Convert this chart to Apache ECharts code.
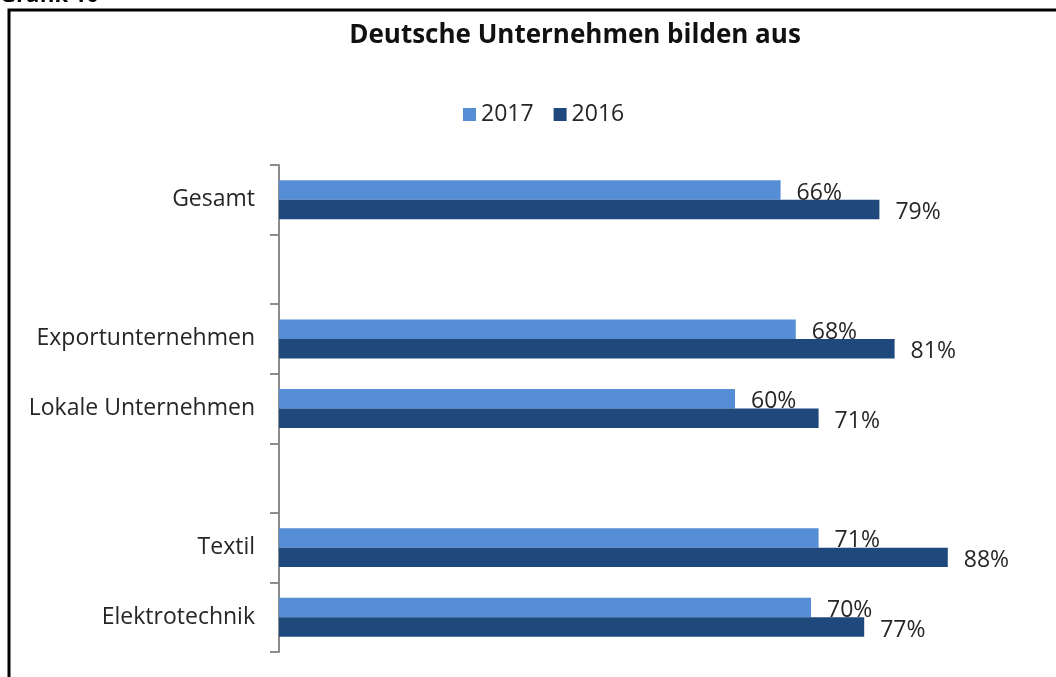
<!DOCTYPE html>
<html>
<head>
<meta charset="utf-8">
<script src="https://cdn.jsdelivr.net/npm/echarts@6/dist/echarts.min.js"></script>
<style>
  html, body { margin: 0; padding: 0; background: #fff; }
  #chart { width: 1056px; height: 677px; }
</style>
</head>
<body>
<div id="chart"></div>
<script>
// Daten
const categories = ['Gesamt', '', 'Exportunternehmen', 'Lokale Unternehmen', '', 'Textil', 'Elektrotechnik'];
const values2017 = [66, null, 68, 60, null, 71, 70];
const values2016 = [79, null, 81, 71, null, 88, 77];
const seriesNames = ['2017', '2016'];

const chart = echarts.init(document.getElementById('chart'));
const font = '"Open Sans", sans-serif';

const labelStyle = {
    show: true,
    position: 'right',
    distance: 16,
    offset: [0, 3],
    formatter: '{c}%',
    fontFamily: font,
    fontSize: 23,
    color: '#262626'
};

const option = {
    animation: false,
    title: {
        text: 'Deutsche Unternehmen bilden aus',
        left: 570,
        textAlign: 'center',
        top: 18,
        textStyle: { fontFamily: font, fontWeight: 'bold', fontSize: 26, color: '#111' }
    },
    legend: {
        data: seriesNames,
        left: 458,
        top: 98,
        itemWidth: 13,
        itemHeight: 13,
        itemGap: 20,
        icon: 'rect',
        textStyle: { fontFamily: font, fontSize: 23, color: '#262626' }
    },
    grid: { left: 279, right: 17, top: 165, bottom: 25 },
    xAxis: {
        type: 'value',
        min: 0,
        max: 100,
        show: false
    },
    yAxis: {
        type: 'category',
        data: categories,
        inverse: true,
        axisLine: { lineStyle: { color: '#8c8c8c', width: 2 } },
        axisTick: { show: true, length: 9, lineStyle: { color: '#8c8c8c', width: 2 } },
        axisLabel: { fontFamily: font, fontSize: 23, color: '#262626', margin: 24, padding: [8, 0, 0, 0] }
    },
    series: [
        {
            name: '2017',
            type: 'bar',
            data: values2017,
            barGap: '0%',
            barCategoryGap: '44%',
            itemStyle: { color: '#558ED5' },
            label: labelStyle
        },
        {
            name: '2016',
            type: 'bar',
            data: values2016,
            itemStyle: { color: '#1F497D' },
            label: labelStyle
        }
    ],
    graphic: [
        {
            type: 'text',
            left: 0,
            top: -15,
            style: { text: 'Grafik 10', fontFamily: font, fontWeight: 'bold', fontSize: 22, fill: '#000' }
        },
        {
            type: 'polyline',
            shape: { points: [[9, 677], [9, 10], [1056, 10]] },
            style: { stroke: '#000', lineWidth: 3, fill: null }
        }
    ]
};

chart.setOption(option);
</script>
</body>
</html>
